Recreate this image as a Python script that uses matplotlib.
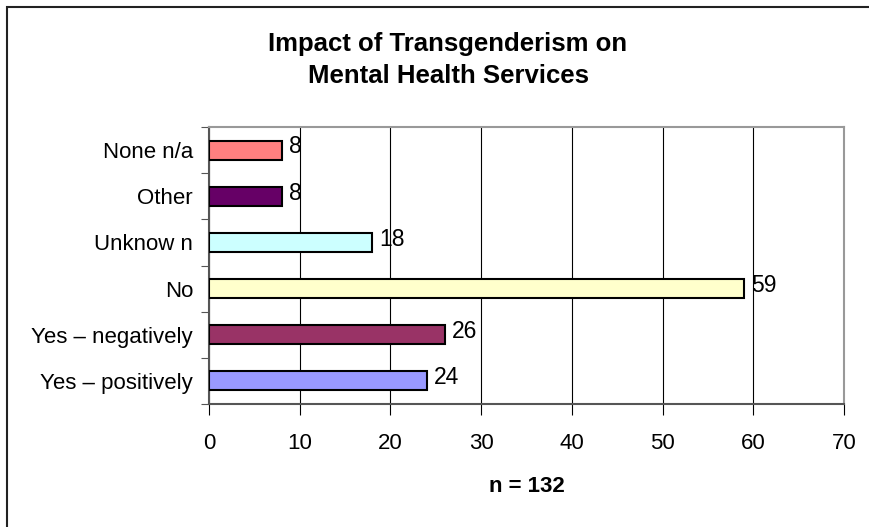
import matplotlib.pyplot as plt
import matplotlib.patches as patches
import numpy as np

plt.rcParams['font.family'] = ['Liberation Sans', 'DejaVu Sans']

# Survey responses, top to bottom
categories = ['None n/a', 'Other', 'Unknow n', 'No', 'Yes \u2013 negatively', 'Yes \u2013 positively']
counts = [8, 8, 18, 59, 26, 24]
colors = ['#FF8080', '#660066', '#CCFFFF', '#FFFFCC', '#993366', '#9999FF']
xticks = [0, 10, 20, 30, 40, 50, 60, 70]

fig = plt.figure(figsize=(8.69, 5.27), dpi=100)

# chart area border
fig.patches.append(patches.Rectangle((7 / 869, -0.05), 1.0, 1 - 7 / 527 + 0.05,
                                     transform=fig.transFigure, fill=False,
                                     edgecolor='#222222', linewidth=1.5))

ax = fig.add_axes([209 / 869, 1 - 404 / 527, 635 / 869, 277 / 527])

y = np.arange(len(categories))[::-1]
ax.barh(y, counts, height=0.41, color=colors, edgecolor='black', linewidth=1.5, zorder=3)

for yi, c in zip(y, counts):
    ax.text(c + 0.8, yi + 0.07, str(c), va='center', ha='left', fontsize=16.5, zorder=4)

ax.set_xlim(0, 70)
ax.set_ylim(-0.5, len(categories) - 0.5)
ax.set_xticks(xticks)
ax.set_xticklabels([str(t) for t in xticks], fontsize=16)
ax.tick_params(axis='x', length=8, width=0.8, color='black', direction='out', pad=13)

ax.set_yticks(y)
ax.set_yticklabels(categories, fontsize=16)
ax.tick_params(axis='y', which='major', length=0, pad=11.5)
ax.set_yticks(np.arange(-0.5, len(categories)), minor=True)
ax.tick_params(axis='y', which='minor', length=6, width=0.8, color='#555555', direction='out')

ax.grid(axis='x', color='black', linewidth=0.8, zorder=0)
ax.set_axisbelow(True)

for side in ['left', 'bottom']:
    ax.spines[side].set_color('#555555')
    ax.spines[side].set_linewidth(1.5)
for side in ['top', 'right']:
    ax.spines[side].set_color('#999999')
    ax.spines[side].set_linewidth(1.5)

fig.text(448 / 869, 1 - 60 / 527, 'Impact of Transgenderism on\nMental Health Services',
         ha='center', va='center', fontsize=18.5, fontweight='bold', linespacing=1.45)
fig.text(527 / 869, 1 - 486 / 527, 'n = 132', ha='center', va='center',
         fontsize=16, fontweight='bold')

fig.savefig('out.png', dpi=100)
